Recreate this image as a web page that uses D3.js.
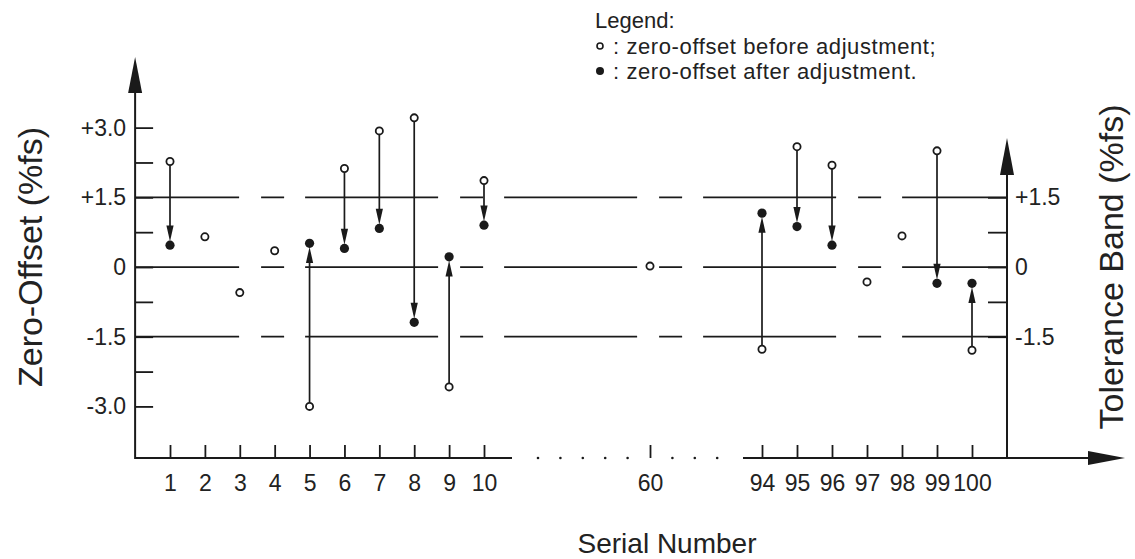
<!DOCTYPE html>
<html>
<head>
<meta charset="utf-8">
<script src="https://cdn.jsdelivr.net/npm/d3@7"></script>
<style>
  body { margin: 0; background: #fff; }
  text { font-family: "Liberation Sans", Arial, sans-serif; fill: #222; }
</style>
</head>
<body>
<div id="chart"></div>
<script>
// serial numbers shown on the axis and the zero-offset readings
var serials = [1, 2, 3, 4, 5, 6, 7, 8, 9, 10, 60, 94, 95, 96, 97, 98, 99, 100];
var before  = [2.27, 0.65, -0.55, 0.35, -3.0, 2.12, 2.93, 3.21, -2.58, 1.86, 0.02, -1.77, 2.59, 2.19, -0.32, 0.67, 2.50, -1.79];
var after   = [0.47, null, null, null, 0.51, 0.40, 0.83, -1.19, 0.22, 0.90, null, 1.16, 0.87, 0.47, null, null, -0.35, -0.35];

var leftTicks = [3, 2.25, 1.5, 0.75, 0, -0.75, -1.5, -2.25, -3];
var leftLabels = {"3": "+3.0", "1.5": "+1.5", "0": "0", "-1.5": "-1.5", "-3": "-3.0"};
var rightTicks = [1.5, 0.75, 0, -0.75, -1.5];
var rightLabels = {"1.5": "+1.5", "0": "0", "-1.5": "-1.5"};
var bands = [1.5, 0, -1.5];

var W = 1135, H = 559;
var ink = "#1a1a1a";
var tickFont = 23;

var svg = d3.select("#chart").append("svg")
    .attr("width", W)
    .attr("height", H);

// broken x axis: piecewise scale over the shown serial numbers
var x = d3.scaleLinear()
    .domain([1, 10, 60, 94, 100])
    .range([170, 484, 650, 762, 972]);

var y = d3.scaleLinear()
    .domain([-4.11, 4.52])
    .range([458, 57]);

var x0 = x(0), x1 = x(101), yBase = y(-4.11);

// tolerance band lines
svg.append("g").selectAll("line")
  .data(bands)
  .enter().append("line")
    .attr("x1", x0).attr("x2", x1)
    .attr("y1", d => y(d)).attr("y2", d => y(d))
    .attr("stroke", ink)
    .attr("stroke-width", 1.8)
    .attr("stroke-dasharray", "133,22,23,21")
    .attr("stroke-dashoffset", 29);

function styleAxis(g) {
  g.select(".domain").remove();
  g.selectAll(".tick line").attr("stroke", ink).attr("stroke-width", 1.8);
  g.selectAll(".tick text")
      .attr("font-size", tickFont)
      .attr("font-family", "Liberation Sans, Arial, sans-serif")
      .attr("fill", "#222");
}

// left axis
var yAxisL = d3.axisLeft(y)
    .tickValues(leftTicks)
    .tickSize(-18)
    .tickPadding(9)
    .tickFormat(d => leftLabels[String(d)] || "");
svg.append("g")
    .attr("transform", "translate(" + x0 + ",0)")
    .call(yAxisL)
    .call(styleAxis);

svg.append("line")
    .attr("x1", x0).attr("x2", x0)
    .attr("y1", yBase + 1).attr("y2", 90)
    .attr("stroke", ink).attr("stroke-width", 2);
svg.append("path")
    .attr("d", "M" + x0 + ",57L" + (x0 - 7) + ",93L" + (x0 + 7) + ",93Z")
    .attr("fill", ink);

// right axis
var yAxisR = d3.axisRight(y)
    .tickValues(rightTicks)
    .tickSize(-19)
    .tickPadding(8)
    .tickFormat(d => rightLabels[String(d)] || "");
svg.append("g")
    .attr("transform", "translate(" + x1 + ",0)")
    .call(yAxisR)
    .call(styleAxis);

svg.append("line")
    .attr("x1", x1).attr("x2", x1)
    .attr("y1", yBase + 1).attr("y2", 172)
    .attr("stroke", ink).attr("stroke-width", 2);
svg.append("path")
    .attr("d", "M" + x1 + ",138L" + (x1 - 7) + ",175L" + (x1 + 7) + ",175Z")
    .attr("fill", ink);

// bottom axis
var xAxis = d3.axisBottom(x)
    .tickValues(serials)
    .tickSize(-13)
    .tickPadding(17)
    .tickFormat(d3.format("d"));
svg.append("g")
    .attr("transform", "translate(0," + yBase + ")")
    .call(xAxis)
    .call(styleAxis);

// axis line with a break between 10 and 94
svg.append("line")
    .attr("x1", x0).attr("x2", x(10) + 28)
    .attr("y1", yBase).attr("y2", yBase)
    .attr("stroke", ink).attr("stroke-width", 2);
svg.append("line")
    .attr("x1", x(94) - 19).attr("x2", 1092)
    .attr("y1", yBase).attr("y2", yBase)
    .attr("stroke", ink).attr("stroke-width", 2);
svg.append("path")
    .attr("d", "M1125," + yBase + "L1088," + (yBase - 7) + "L1088," + (yBase + 7) + "Z")
    .attr("fill", ink);

var gap = [-5, -4, -3, -2, -1, 1, 2, 3];
svg.append("g").selectAll("circle")
  .data(gap)
  .enter().append("circle")
    .attr("cx", d => x(60) + d * 22.4)
    .attr("cy", yBase)
    .attr("r", 1.3)
    .attr("fill", ink);

// data
var data = serials.map((s, i) => ({s: s, b: before[i], a: after[i]}));
var moved = data.filter(d => d.a !== null);

var rOpen = 3.6, rFill = 4.6, headLen = 16, headW = 3.6;

svg.append("g").selectAll("line")
  .data(moved)
  .enter().append("line")
    .attr("x1", d => x(d.s)).attr("x2", d => x(d.s))
    .attr("y1", d => y(d.b) + (y(d.a) > y(d.b) ? rOpen : -rOpen))
    .attr("y2", d => {
      var dir = y(d.a) > y(d.b) ? 1 : -1;
      return y(d.a) - dir * (rFill + headLen - 2);
    })
    .attr("stroke", ink)
    .attr("stroke-width", 1.7);

svg.append("g").selectAll("path")
  .data(moved)
  .enter().append("path")
    .attr("d", d => {
      var dir = y(d.a) > y(d.b) ? 1 : -1;
      var cx = x(d.s);
      var tip = y(d.a) - dir * (rFill - 1);
      var base = tip - dir * headLen;
      return "M" + cx + "," + tip + "L" + (cx - headW) + "," + base + "L" + (cx + headW) + "," + base + "Z";
    })
    .attr("fill", ink);

svg.append("g").selectAll("circle")
  .data(data)
  .enter().append("circle")
    .attr("cx", d => x(d.s))
    .attr("cy", d => y(d.b))
    .attr("r", rOpen)
    .attr("fill", "#fff")
    .attr("stroke", ink)
    .attr("stroke-width", 1.8);

svg.append("g").selectAll("circle")
  .data(moved)
  .enter().append("circle")
    .attr("cx", d => x(d.s))
    .attr("cy", d => y(d.a))
    .attr("r", rFill)
    .attr("fill", ink);

// titles
svg.append("text")
    .attr("transform", "translate(42,257) rotate(-90)")
    .attr("text-anchor", "middle")
    .attr("font-size", 34)
    .text("Zero-Offset (%fs)");

svg.append("text")
    .attr("transform", "translate(1123,267) rotate(-90)")
    .attr("text-anchor", "middle")
    .attr("font-size", 34)
    .text("Tolerance Band (%fs)");

svg.append("text")
    .attr("x", 667)
    .attr("y", 553)
    .attr("text-anchor", "middle")
    .attr("font-size", 28)
    .text("Serial Number");

// legend
svg.append("text")
    .attr("x", 595).attr("y", 28)
    .attr("font-size", 22)
    .text("Legend:");
svg.append("circle")
    .attr("cx", 600).attr("cy", 46).attr("r", rOpen - 0.6)
    .attr("fill", "#fff").attr("stroke", ink).attr("stroke-width", 1.6);
svg.append("text")
    .attr("x", 613).attr("y", 54)
    .attr("font-size", 22)
    .attr("letter-spacing", 0.6)
    .text(": zero-offset before adjustment;");
svg.append("circle")
    .attr("cx", 600).attr("cy", 71).attr("r", rFill - 0.6)
    .attr("fill", ink);
svg.append("text")
    .attr("x", 613).attr("y", 79)
    .attr("font-size", 22)
    .attr("letter-spacing", 0.6)
    .text(": zero-offset after adjustment.");
</script>
</body>
</html>
